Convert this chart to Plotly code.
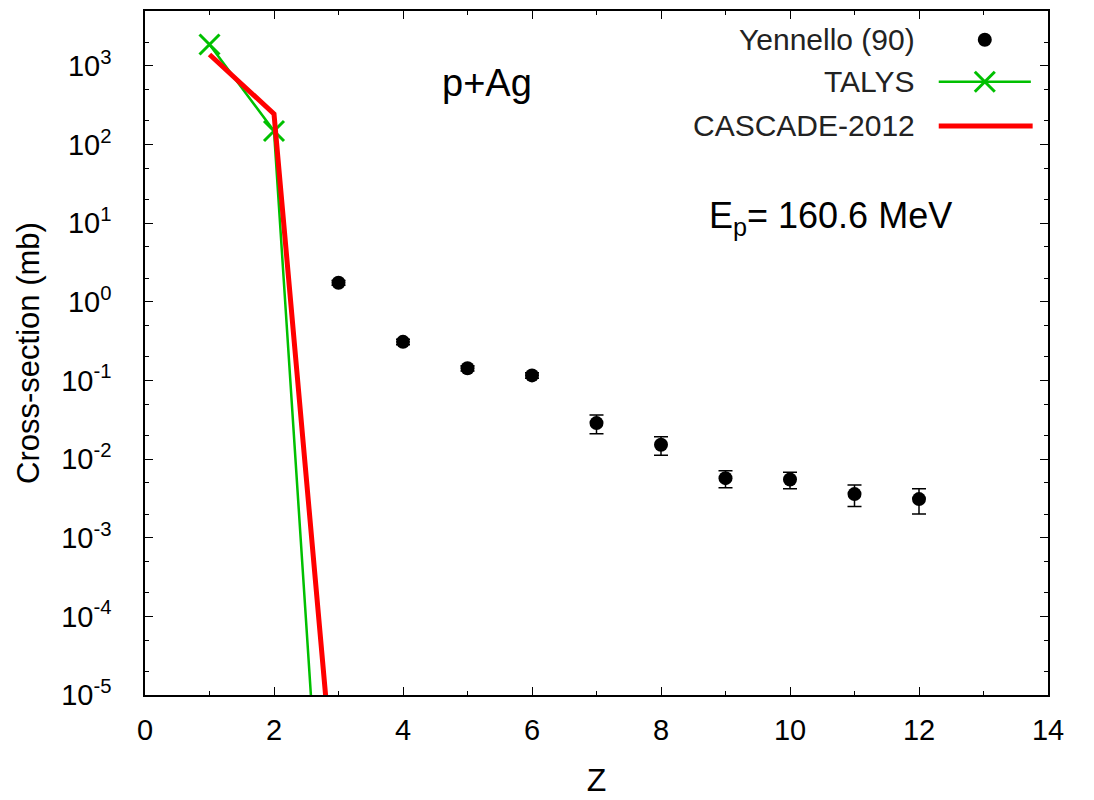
import plotly.graph_objects as go

# ---------------- data ----------------
Z_exp = [3, 4, 5, 6, 7, 8, 9, 10, 11, 12]
sigma_exp = [1.75, 0.31, 0.143, 0.116, 0.0287, 0.0152, 0.00573, 0.00551, 0.00359, 0.0031]
sigma_exp_err = [0.12, 0.025, 0.011, 0.009, 0.0077, 0.004, 0.0014, 0.0013, 0.0011, 0.0011]

Z_talys = [1, 2, 3]
sigma_talys = [1875, 149, 4.3e-11]

Z_cascade = [1, 2, 3]
sigma_cascade = [1400, 246, 1.4e-7]

x_ticks = [0, 2, 4, 6, 8, 10, 12, 14]
y_tick_vals = [1e-5, 1e-4, 1e-3, 1e-2, 1e-1, 1e0, 1e1, 1e2, 1e3]
y_tick_text = ["10<sup>-5</sup>", "10<sup>-4</sup>", "10<sup>-3</sup>", "10<sup>-2</sup>",
               "10<sup>-1</sup>", "10<sup>0</sup>", "10<sup>1</sup>", "10<sup>2</sup>", "10<sup>3</sup>"]

FONT = "Liberation Sans, Arial, sans-serif"
GREEN = "#00c000"
RED = "#ff0000"

fig = go.Figure()

fig.add_trace(go.Scatter(
    x=Z_exp, y=sigma_exp, mode="markers", name="Yennello (90)",
    marker=dict(symbol="circle", size=14, color="black"),
    error_y=dict(type="data", array=sigma_exp_err, color="black", thickness=1.5, width=7),
    showlegend=False,
))
fig.add_trace(go.Scatter(
    x=Z_talys, y=sigma_talys, mode="lines+markers", name="TALYS",
    line=dict(color=GREEN, width=2.5),
    marker=dict(symbol="x-thin", size=20, line=dict(color=GREEN, width=3)),
    showlegend=False,
))
fig.add_trace(go.Scatter(
    x=Z_cascade, y=sigma_cascade, mode="lines", name="CASCADE-2012",
    line=dict(color=RED, width=5),
    showlegend=False,
))

axis_common = dict(
    showline=True, linecolor="black", linewidth=1.5, mirror="ticks",
    ticks="inside", tickcolor="black", tickwidth=1.2, ticklen=8,
    showgrid=False, zeroline=False,
    tickfont=dict(family=FONT, size=29, color="black"),
)

fig.update_xaxes(
    range=[0, 14], tickmode="array", tickvals=x_ticks,
    ticklabelstandoff=8,
    minor=dict(ticks="inside", ticklen=4, dtick=1, tickcolor="black", tickwidth=1.2),
    title=dict(text="Z", font=dict(family=FONT, size=32, color="black"), standoff=24),
    **axis_common,
)
fig.update_yaxes(
    type="log", range=[-5, 3.699],
    tickmode="array", tickvals=y_tick_vals, ticktext=y_tick_text,
    ticklabelstandoff=26,
    minor=dict(ticks="inside", ticklen=4, dtick="D2", tickcolor="black", tickwidth=1.2),
    title=dict(text="Cross-section (mb)", font=dict(family=FONT, size=31, color="black"), standoff=12),
    **axis_common,
)

# ---------- legend (gnuplot style: text right, sample on the right) ----------
legend_font = dict(family=FONT, size=30, color="#222222")
leg_text_x = 0.855
leg_rows_y = [0.958, 0.8965, 0.832]
leg_labels = ["Yennello (90)", "TALYS", "CASCADE-2012"]
for lbl, yy in zip(leg_labels, leg_rows_y):
    fig.add_annotation(xref="paper", yref="paper", x=leg_text_x, y=yy, text=lbl,
                       showarrow=False, xanchor="right", yanchor="middle", font=legend_font)

sample_x0, sample_x1, sample_xc = 0.879, 0.981, 0.930
# Yennello sample: filled dot
fig.add_shape(type="circle", xref="paper", yref="paper", xsizemode="pixel", ysizemode="pixel",
              xanchor=sample_xc, yanchor=leg_rows_y[0], x0=-7, x1=7, y0=-7, y1=7,
              fillcolor="black", line=dict(color="black", width=0))
# TALYS sample: line + X
fig.add_shape(type="line", xref="paper", yref="paper", x0=sample_x0, x1=sample_x1,
              y0=leg_rows_y[1], y1=leg_rows_y[1], line=dict(color=GREEN, width=2.5))
for d in (1, -1):
    fig.add_shape(type="line", xref="paper", yref="paper", xsizemode="pixel", ysizemode="pixel",
                  xanchor=sample_xc, yanchor=leg_rows_y[1], x0=-10, x1=10, y0=-10 * d, y1=10 * d,
                  line=dict(color=GREEN, width=3))
# CASCADE sample
fig.add_shape(type="line", xref="paper", yref="paper", x0=sample_x0, x1=sample_x1 + 0.002,
              y0=leg_rows_y[2], y1=leg_rows_y[2], line=dict(color=RED, width=5))

# ---------- labels ----------
fig.add_annotation(xref="paper", yref="paper", x=0.379, y=0.895, text="p+Ag", showarrow=False,
                   xanchor="center", yanchor="middle", font=dict(family=FONT, size=38, color="black"))
fig.add_annotation(xref="paper", yref="paper", x=0.759, y=0.697, text="E<sub>p</sub>= 160.6 MeV",
                   showarrow=False, xanchor="center", yanchor="middle",
                   font=dict(family=FONT, size=36, color="black"))

# margins compensate the page's 8 px body margin so the plot area lands at x 145-1048, y 9-695
fig.update_layout(
    width=1094, height=800, autosize=False,
    margin=dict(l=137, r=54, t=1, b=113),
    paper_bgcolor="white", plot_bgcolor="white",
    showlegend=False,
)

fig.write_html("out.html")
